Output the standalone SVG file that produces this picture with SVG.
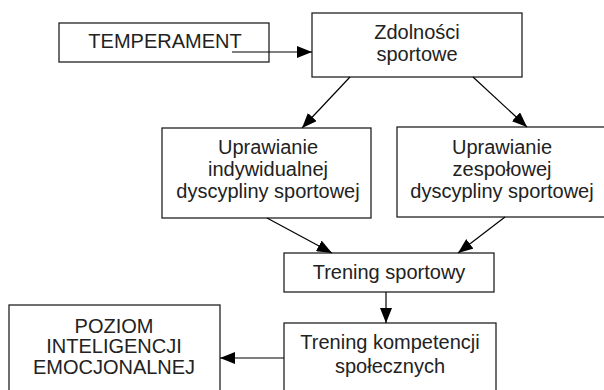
<svg xmlns="http://www.w3.org/2000/svg" width="604" height="390" viewBox="0 0 604 390">
<defs>
<marker id="ah" viewBox="0 0 15 12" refX="15" refY="6" markerWidth="15" markerHeight="12" markerUnits="userSpaceOnUse" orient="auto">
<path d="M0,0 L15,6 L0,12 Z" fill="#000"/>
</marker>
<style>
.box{fill:#fff;stroke:#222;stroke-width:1.3}
.t{font-family:"Liberation Sans",Arial,sans-serif;font-size:20px;fill:#222;text-anchor:middle}
.c{stroke:#000;stroke-width:1.2;fill:none;marker-end:url(#ah)}
</style>
</defs>
<rect width="604" height="390" fill="#fff"/>
<g id="temperament">
<rect class="box" x="59" y="23" width="210" height="39"/>
<text class="t" x="165" y="48">TEMPERAMENT</text>
</g>
<g id="zdolnosci">
<rect class="box" x="312" y="13" width="210" height="64"/>
<text class="t" x="417" y="39">Zdolności</text>
<text class="t" x="417" y="61">sportowe</text>
</g>
<g id="indywidualna">
<rect class="box" x="162" y="128" width="209" height="90"/>
<text class="t" x="268" y="154">Uprawianie</text>
<text class="t" x="268" y="176">indywidualnej</text>
<text class="t" x="268" y="198">dyscypliny sportowej</text>
</g>
<g id="zespolowa">
<rect class="box" x="397" y="127" width="215" height="90"/>
<text class="t" x="502" y="154">Uprawianie</text>
<text class="t" x="502" y="176">zespołowej</text>
<text class="t" x="502" y="198">dyscypliny sportowej</text>
</g>
<g id="trening">
<rect class="box" x="284" y="253" width="210" height="39"/>
<text class="t" x="389" y="279">Trening sportowy</text>
</g>
<g id="kompetencje">
<rect class="box" x="284" y="323" width="212" height="75"/>
<text class="t" x="390" y="349">Trening kompetencji</text>
<text class="t" x="390" y="373">społecznych</text>
</g>
<g id="poziom">
<rect class="box" x="9" y="305" width="211" height="93"/>
<text class="t" x="114" y="333">POZIOM</text>
<text class="t" x="114" y="353">INTELIGENCJI</text>
<text class="t" x="114" y="374">EMOCJONALNEJ</text>
</g>
<g id="connectors">
<line class="c" x1="232" y1="52" x2="312" y2="52"/>
<line class="c" x1="350" y1="77" x2="302" y2="128"/>
<line class="c" x1="473" y1="77" x2="527" y2="127"/>
<line class="c" x1="267" y1="218" x2="332" y2="253"/>
<line class="c" x1="505" y1="217" x2="458" y2="253"/>
<line class="c" x1="386" y1="292" x2="386" y2="323"/>
<line class="c" x1="284" y1="358" x2="220" y2="358"/>
</g>
</svg>
